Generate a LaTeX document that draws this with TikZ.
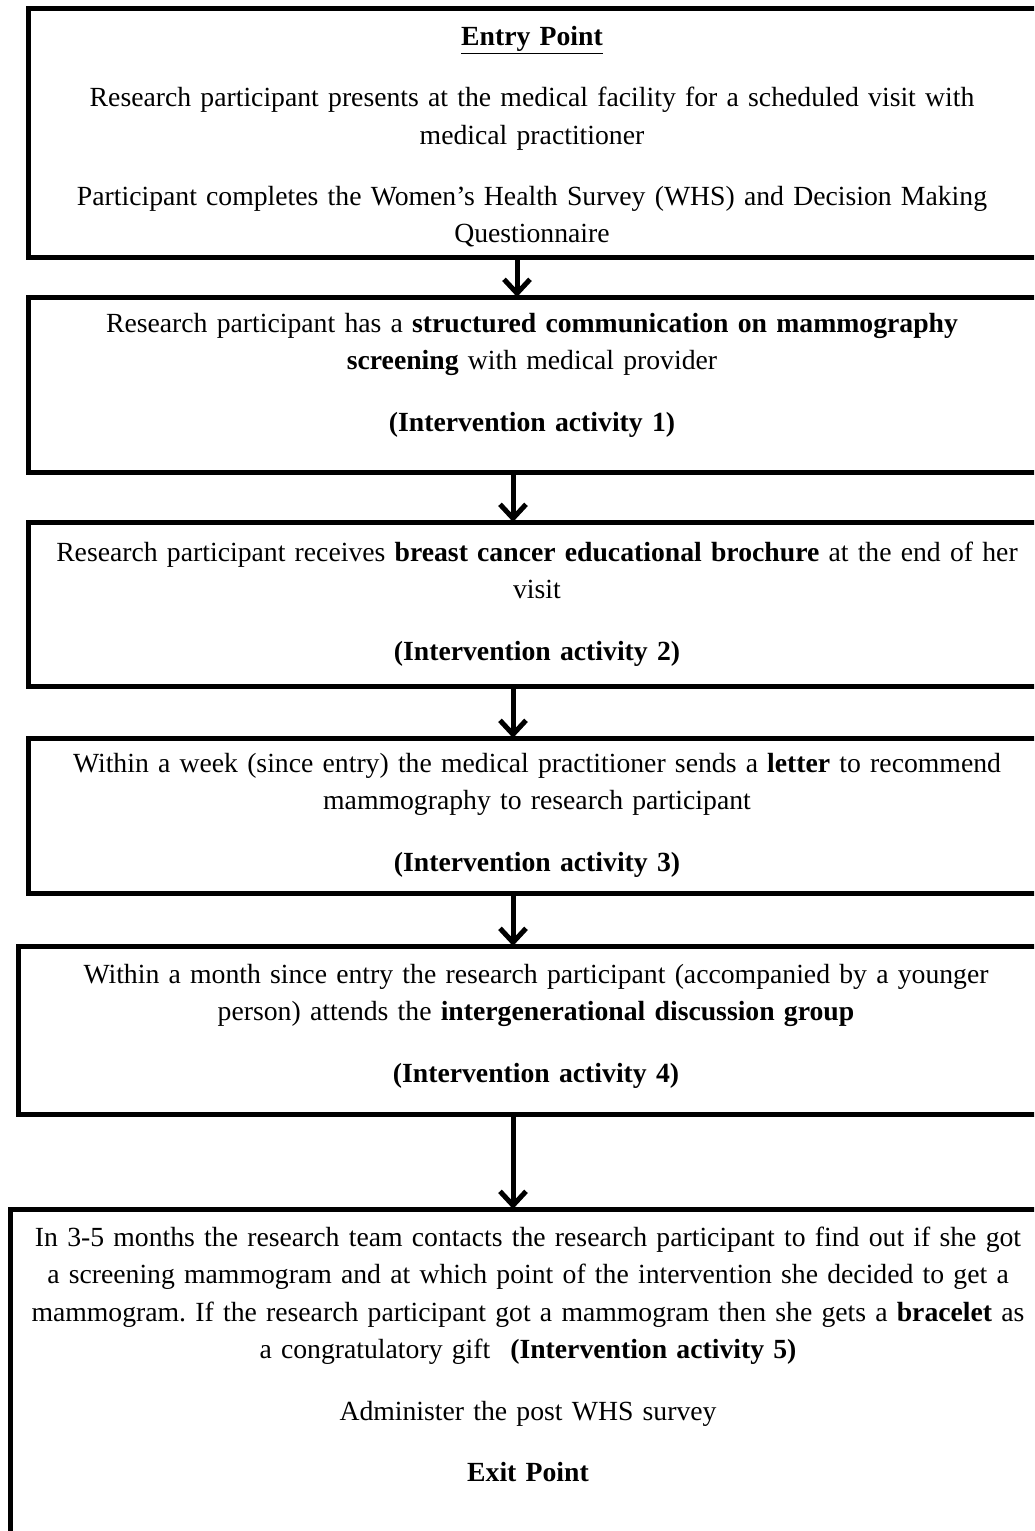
\documentclass[tikz,border=0pt]{standalone}
\usepackage{fontspec}
\setmainfont{Liberation Serif}
\usetikzlibrary{arrows.meta}
\frenchspacing
\begin{document}
\begin{tikzpicture}[x=0.5pt,y=-0.5pt,
 box/.style={draw, line width=2.5pt, rectangle, outer sep=0pt, inner sep=0pt, anchor=north west},
 txt/.style={anchor=base, align=center, text width=515pt, inner sep=0pt, font=\fontsize{13.85pt}{18.75pt}\selectfont},
 arr/.style={line width=2.5pt, -{Straight Barb[length=7pt,width=13pt]}}]
\useasboundingbox (0,0) rectangle (1034,1531);
\clip (0,0) rectangle (1034,1531);
\node[box, minimum width=508.5pt, minimum height=124.5pt] (b1) at (28,8) {};
\node[box, minimum width=508.5pt, minimum height=87.5pt] (b2) at (28,297) {};
\node[box, minimum width=508.5pt, minimum height=82pt] (b3) at (28,522) {};
\node[box, minimum width=508.5pt, minimum height=77.5pt] (b4) at (28,738) {};
\node[box, minimum width=513.5pt, minimum height=84pt] (b5) at (18,946) {};
\node[box, minimum width=517.5pt, minimum height=180pt] (b6) at (10,1209) {};

\node[txt] (t1) at (532,45) {\underline{\textbf{Entry Point}}\\[12pt]
Research participant presents at the medical facility for a scheduled visit with\\
medical practitioner\\[12pt]
Participant completes the Women’s Health Survey (WHS) and Decision Making\\
Questionnaire};
\node[txt] (t2) at (532,332) {Research participant has a \textbf{structured communication on mammography}\\
\textbf{screening} with medical provider\\[12pt]
\textbf{(Intervention activity 1)}};
\node[txt] (t3) at (537,561) {Research participant receives \textbf{breast cancer educational brochure} at the end of her\\
visit\\[12pt]
\textbf{(Intervention activity 2)}};
\node[txt] (t4) at (537,772) {Within a week (since entry) the medical practitioner sends a \textbf{letter} to recommend\\
mammography to research participant\\[12pt]
\textbf{(Intervention activity 3)}};
\node[txt] (t5) at (536,983) {Within a month since entry the research participant (accompanied by a younger\\
person) attends the \textbf{intergenerational discussion group}\\[12pt]
\textbf{(Intervention activity 4)}};
\node[txt] (t6) at (528,1246) {In 3-5 months the research team contacts the research participant to find out if she got\\
a screening mammogram and at which point of the intervention she decided to get a\\
mammogram. If the research participant got a mammogram then she gets a \textbf{bracelet} as\\
a congratulatory gift\hspace{10pt}\textbf{(Intervention activity 5)}\\[12pt]
Administer the post WHS survey\\[12pt]
\textbf{Exit Point}};

\draw[arr] (b1.south -| 517,0) -- (b2.north -| 517,0);
\draw[arr] (b2.south -| 513,0) -- (b3.north -| 513,0);
\draw[arr] (b3.south -| 513,0) -- (b4.north -| 513,0);
\draw[arr] (b4.south -| 513,0) -- (b5.north -| 513,0);
\draw[arr] (b5.south -| 513,0) -- (b6.north -| 513,0);
\end{tikzpicture}
\end{document}
